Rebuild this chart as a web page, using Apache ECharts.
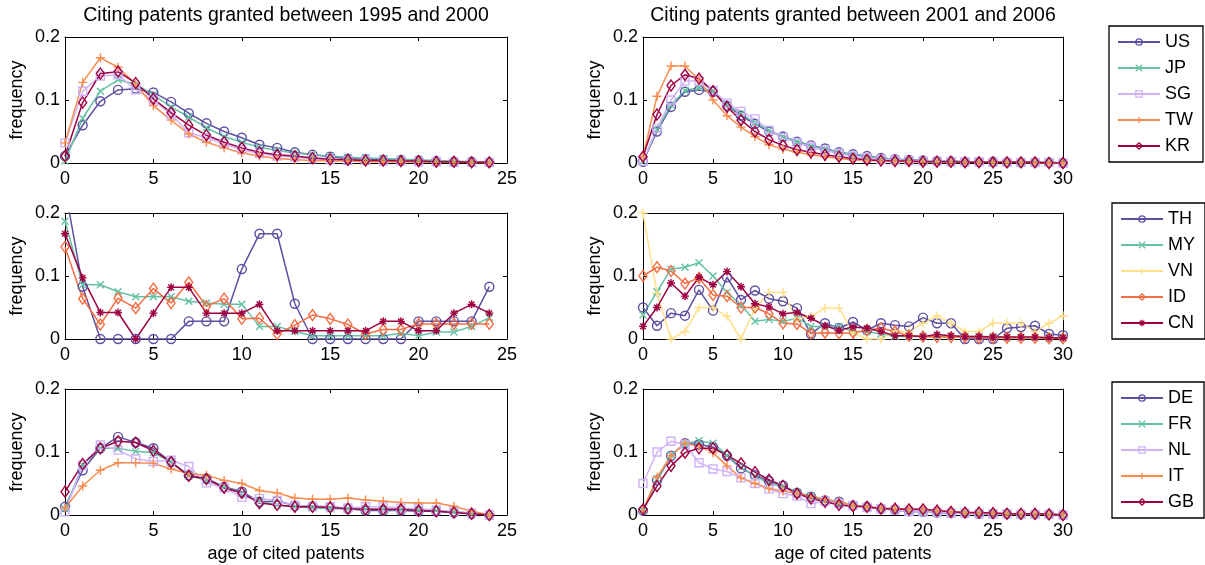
<!DOCTYPE html>
<html><head><meta charset="utf-8">
<script src="https://cdn.jsdelivr.net/npm/echarts@6/dist/echarts.min.js"></script>
<style>html,body{margin:0;padding:0;background:#fff}#c{width:1205px;height:565px}</style>
</head><body><div id="c"></div>
<script>
// ---- data ----
const titles = ['Citing patents granted between 1995 and 2000', 'Citing patents granted between 2001 and 2006'];
const xMaxLeft = 25, xMaxRight = 30;
const yTicks = [0, 0.1, 0.2];
const xLabel = 'age of cited patents';
const yLabel = 'frequency';

// Panel 1 (1995-2000, group 1)
const p1_US = [0.011,0.060,0.098,0.116,0.118,0.112,0.097,0.079,0.063,0.050,0.040,0.029,0.024,0.017,0.013,0.010,0.007,0.006,0.005,0.005,0.004,0.003,0.002,0.002,0.001];
const p1_JP = [0.003,0.071,0.114,0.132,0.125,0.108,0.089,0.073,0.056,0.042,0.033,0.025,0.020,0.016,0.013,0.011,0.009,0.008,0.007,0.006,0.005,0.004,0.003,0.002,0.001];
const p1_SG = [0.032,0.114,0.138,0.140,0.116,0.100,0.077,0.048,0.040,0.030,0.021,0.015,0.011,0.009,0.007,0.005,0.004,0.004,0.003,0.003,0.002,0.002,0.001,0.001,0.001];
const p1_TW = [0.032,0.128,0.167,0.152,0.125,0.091,0.068,0.046,0.033,0.024,0.016,0.011,0.007,0.005,0.004,0.003,0.003,0.002,0.002,0.002,0.001,0.001,0.001,0.001,0.000];
const p1_KR = [0.011,0.096,0.142,0.145,0.127,0.102,0.080,0.060,0.044,0.033,0.024,0.017,0.013,0.011,0.008,0.006,0.005,0.004,0.004,0.003,0.003,0.002,0.002,0.001,0.001];
// Panel 2 (2001-2006, group 1)
const p2_US = [0.002,0.050,0.089,0.113,0.116,0.113,0.091,0.075,0.062,0.050,0.042,0.034,0.028,0.023,0.017,0.014,0.011,0.008,0.006,0.005,0.004,0.003,0.003,0.002,0.002,0.002,0.001,0.001,0.001,0.001,0.000];
const p2_JP = [0.003,0.053,0.092,0.115,0.120,0.114,0.093,0.078,0.064,0.052,0.042,0.034,0.027,0.022,0.017,0.013,0.010,0.008,0.006,0.005,0.004,0.003,0.003,0.002,0.002,0.001,0.001,0.001,0.001,0.001,0.000];
const p2_SG = [0.003,0.055,0.100,0.130,0.130,0.115,0.095,0.082,0.070,0.052,0.040,0.032,0.025,0.020,0.015,0.011,0.008,0.006,0.005,0.004,0.003,0.003,0.002,0.002,0.002,0.001,0.001,0.001,0.001,0.001,0.000];
const p2_TW = [0.010,0.106,0.154,0.154,0.132,0.100,0.075,0.057,0.042,0.029,0.022,0.017,0.013,0.010,0.007,0.005,0.004,0.003,0.003,0.002,0.002,0.002,0.001,0.001,0.001,0.001,0.001,0.001,0.000,0.000,0.000];
const p2_KR = [0.010,0.077,0.123,0.140,0.134,0.114,0.089,0.068,0.050,0.037,0.028,0.021,0.017,0.013,0.010,0.007,0.005,0.004,0.003,0.003,0.002,0.002,0.002,0.001,0.001,0.001,0.001,0.001,0.001,0.000,0.000];
// Panel 3 (1995-2000, group 2)
const p3_TH = [0.240,0.083,0,0,0,0,0,0.028,0.028,0.028,0.111,0.167,0.167,0.056,0,0,0,0,0,0,0.028,0.028,0.028,0.028,0.083];
const p3_MY = [0.187,0.086,0.086,0.075,0.067,0.067,0.067,0.060,0.057,0.055,0.055,0.020,0.020,0.012,0.005,0.005,0.005,0.005,0.005,0.009,0.005,0.011,0.011,0.020,0.034];
const p3_ID = [0.146,0.064,0.023,0.065,0.049,0.080,0.057,0.090,0.052,0.064,0.032,0.033,0.008,0.022,0.038,0.032,0.023,0.008,0.015,0.015,0.024,0.024,0.024,0.024,0.024];
const p3_CN = [0.167,0.097,0.042,0.042,0.000,0.041,0.082,0.082,0.041,0.041,0.041,0.055,0.013,0.013,0.013,0.013,0.013,0.013,0.028,0.028,0.013,0.013,0.041,0.055,0.041];
// Panel 4 (2001-2006, group 2)
const p4_TH = [0.050,0.021,0.041,0.037,0.078,0.045,0.098,0.062,0.077,0.064,0.060,0.049,0.008,0.025,0.017,0.027,0.014,0.025,0.022,0.020,0.034,0.025,0.025,0.000,0.000,0.000,0.017,0.019,0.021,0.008,0.006];
const p4_MY = [0.038,0.075,0.111,0.114,0.121,0.100,0.074,0.054,0.028,0.031,0.028,0.033,0.020,0.020,0.020,0.012,0.012,0.008,0.004,0.004,0.004,0.004,0.004,0.004,0.004,0.004,0.002,0.002,0.002,0.002,0.002];
const p4_VN = [0.200,0.073,0.000,0.012,0.050,0.050,0.036,0.000,0.049,0.074,0.074,0.032,0.036,0.049,0.049,0.010,0.000,0.000,0.012,0.012,0.025,0.037,0.025,0.012,0.012,0.025,0.025,0.025,0.012,0.025,0.037];
const p4_ID = [0.100,0.114,0.108,0.088,0.097,0.070,0.068,0.050,0.050,0.040,0.025,0.024,0.009,0.010,0.009,0.010,0.014,0.017,0.012,0.005,0.004,0.003,0.003,0.003,0.002,0.002,0.002,0.002,0.002,0.001,0.001];
const p4_CN = [0.020,0.050,0.089,0.068,0.098,0.086,0.107,0.083,0.056,0.051,0.040,0.042,0.033,0.021,0.014,0.019,0.017,0.012,0.005,0.005,0.004,0.007,0.005,0.004,0.004,0.003,0.003,0.003,0.003,0.002,0.002];
// Panel 5 (1995-2000, group 3)
const p5_DE = [0.013,0.071,0.106,0.124,0.115,0.106,0.084,0.063,0.058,0.045,0.037,0.021,0.022,0.015,0.014,0.013,0.010,0.007,0.007,0.007,0.006,0.006,0.004,0.002,0.000];
const p5_FR = [0.010,0.079,0.106,0.106,0.101,0.099,0.084,0.063,0.055,0.045,0.034,0.022,0.016,0.013,0.011,0.010,0.010,0.009,0.009,0.008,0.008,0.007,0.005,0.003,0.000];
const p5_NL = [0.005,0.079,0.111,0.103,0.089,0.085,0.087,0.077,0.051,0.043,0.028,0.026,0.023,0.015,0.014,0.013,0.011,0.013,0.013,0.011,0.010,0.008,0.005,0.003,0.000];
const p5_IT = [0.011,0.046,0.071,0.083,0.083,0.082,0.073,0.066,0.063,0.055,0.050,0.039,0.035,0.027,0.025,0.025,0.027,0.024,0.022,0.020,0.019,0.019,0.014,0.006,0.000];
const p5_GB = [0.037,0.081,0.106,0.117,0.115,0.102,0.084,0.062,0.057,0.043,0.035,0.019,0.016,0.013,0.013,0.012,0.010,0.009,0.009,0.009,0.007,0.006,0.004,0.002,0.000];
// Panel 6 (2001-2006, group 3)
const p6_DE = [0.007,0.055,0.094,0.114,0.112,0.108,0.094,0.074,0.063,0.054,0.047,0.035,0.029,0.023,0.021,0.015,0.013,0.010,0.008,0.006,0.005,0.004,0.003,0.003,0.002,0.002,0.002,0.001,0.001,0.001,0.000];
const p6_FR = [0.007,0.057,0.095,0.113,0.118,0.114,0.095,0.076,0.062,0.050,0.045,0.036,0.030,0.024,0.020,0.016,0.013,0.010,0.008,0.006,0.005,0.004,0.003,0.003,0.002,0.002,0.002,0.001,0.001,0.001,0.000];
const p6_NL = [0.050,0.100,0.117,0.112,0.083,0.073,0.069,0.059,0.050,0.041,0.034,0.030,0.018,0.022,0.018,0.015,0.012,0.010,0.008,0.006,0.005,0.004,0.003,0.003,0.002,0.002,0.002,0.001,0.001,0.001,0.000];
const p6_IT = [0.007,0.060,0.094,0.114,0.109,0.099,0.078,0.059,0.050,0.042,0.038,0.034,0.030,0.025,0.021,0.015,0.013,0.011,0.010,0.009,0.009,0.007,0.005,0.004,0.003,0.003,0.002,0.002,0.002,0.001,0.001];
const p6_GB = [0.009,0.046,0.078,0.099,0.106,0.106,0.095,0.082,0.068,0.056,0.046,0.034,0.026,0.021,0.016,0.014,0.013,0.010,0.010,0.009,0.009,0.007,0.005,0.004,0.004,0.003,0.002,0.002,0.002,0.001,0.000];

const legendGroups = [['US','JP','SG','TW','KR'], ['TH','MY','VN','ID','CN'], ['DE','FR','NL','IT','GB']];
const panelSeries = [
  [['US',p1_US],['JP',p1_JP],['SG',p1_SG],['TW',p1_TW],['KR',p1_KR]],
  [['US',p2_US],['JP',p2_JP],['SG',p2_SG],['TW',p2_TW],['KR',p2_KR]],
  [['TH',p3_TH],['MY',p3_MY],['ID',p3_ID],['CN',p3_CN]],
  [['TH',p4_TH],['MY',p4_MY],['VN',p4_VN],['ID',p4_ID],['CN',p4_CN]],
  [['DE',p5_DE],['FR',p5_FR],['NL',p5_NL],['IT',p5_IT],['GB',p5_GB]],
  [['DE',p6_DE],['FR',p6_FR],['NL',p6_NL],['IT',p6_IT],['GB',p6_GB]]
];

// ---- styles ----
const C_BLUE='#5e4fa2', C_GREEN='#66c2a5', C_LAV='#d0b2f6', C_ORANGE='#fa8c4e', C_RED='#9e0142', C_YEL='#fee08b', C_IDO='#f46d43';
const P_X='path://M0,0L10,10M10,0L0,10';
const P_PLUS='path://M5,0L5,10M0,5L10,5';
const P_STAR='path://M5,0L5,10M0,5L10,5M1.5,1.5L8.5,8.5M8.5,1.5L1.5,8.5';
const style = {
  US:[C_BLUE,'circle',9], TH:[C_BLUE,'circle',9], DE:[C_BLUE,'circle',9],
  JP:[C_GREEN,P_X,7], MY:[C_GREEN,P_X,7], FR:[C_GREEN,P_X,7],
  SG:[C_LAV,'rect',8], NL:[C_LAV,'rect',8],
  TW:[C_ORANGE,P_PLUS,9], IT:[C_ORANGE,P_PLUS,9], VN:[C_YEL,P_PLUS,9],
  KR:[C_RED,'diamond',[8,11]], GB:[C_RED,'diamond',[8,11]], ID:[C_IDO,'diamond',[8,11]],
  CN:[C_RED,P_STAR,8]
};

const FONT = '"Liberation Sans", Arial, Helvetica, sans-serif';
const FS = 18;
const lefts = [65, 643], widths = [442, 420], tops = [37, 213, 389], H = 126;

const grids=[], xAxes=[], yAxes=[], series=[];
for (let p=0;p<6;p++){
  const col = p%2, row = Math.floor(p/2);
  const xmax = col===0 ? xMaxLeft : xMaxRight;
  grids.push({left:lefts[col], top:tops[row], width:widths[col], height:H, containLabel:false});
  const tick = {show:true, inside:true, length:4, lineStyle:{color:'#000', width:1}};
  const line = {show:true, onZero:false, lineStyle:{color:'#000', width:1}};
  xAxes.push({gridIndex:p, type:'value', min:0, max:xmax, interval:5, axisLine:line, axisTick:tick,
    splitLine:{show:false}, axisLabel:{color:'#000', fontSize:FS, fontFamily:FONT, margin:7},
    name: row===2 ? xLabel : '', nameLocation:'middle', nameGap:30,
    nameTextStyle:{color:'#000', fontSize:FS, fontFamily:FONT}});
  xAxes.push({gridIndex:p, type:'value', position:'top', min:0, max:xmax, interval:5, axisLine:line, axisTick:tick,
    splitLine:{show:false}, axisLabel:{show:false}});
  yAxes.push({gridIndex:p, type:'value', min:yTicks[0], max:yTicks[2], interval:0.1, axisLine:line, axisTick:tick,
    splitLine:{show:false}, axisLabel:{color:'#000', fontSize:FS, fontFamily:FONT, margin:5, formatter:v=> v===0?'0':v.toFixed(1)},
    name:yLabel, nameLocation:'middle', nameGap:39, nameRotate:90,
    nameTextStyle:{color:'#000', fontSize:FS, fontFamily:FONT}});
  yAxes.push({gridIndex:p, type:'value', position:'right', min:0, max:0.2, interval:0.1, axisLine:line, axisTick:tick,
    splitLine:{show:false}, axisLabel:{show:false}});
  panelSeries[p].forEach(([name, vals])=>{
    const [c, sym, sz] = style[name];
    series.push({type:'line', name, xAxisIndex:2*p, yAxisIndex:2*p, clip:true,
      data: vals.map((v,i)=>[i,v]), symbol:sym, symbolSize:sz, showAllSymbol:true,
      lineStyle:{color:c, width:1.5}, itemStyle:{color:'rgba(255,255,255,0)', borderColor:c, borderWidth:1.4},
      emphasis:{disabled:true}, animation:false});
  });
}

const legendTops = [26, 203, 382];
const legends = legendGroups.map((g,i)=>({
  data:g, orient:'vertical', left: i===0?1109:1112, top:legendTops[i],
  itemWidth:42, itemHeight:8, itemGap:8, padding:[7,10,7,8],
  borderColor:'#000', borderWidth:1.3, backgroundColor:'#fff',
  itemStyle:{color:'rgba(255,255,255,0)', borderWidth:1.3},
  textStyle:{color:'#000', fontSize:FS, fontFamily:FONT}, selectedMode:false,
  inactiveColor:'#000'
}));

const chart = echarts.init(document.getElementById('c'), null, {renderer:'canvas'});
chart.setOption({
  animation:false,
  backgroundColor:'#fff',
  grid:grids, xAxis:xAxes, yAxis:yAxes, series, legend:legends,
  graphic: titles.map((t,i)=>({type:'text', x: lefts[i]+widths[i]/2, y:6,
    style:{text:t, fill:'#000', font:'19.5px '+FONT, textAlign:'center', textVerticalAlign:'top'}}))
});
</script></body></html>
